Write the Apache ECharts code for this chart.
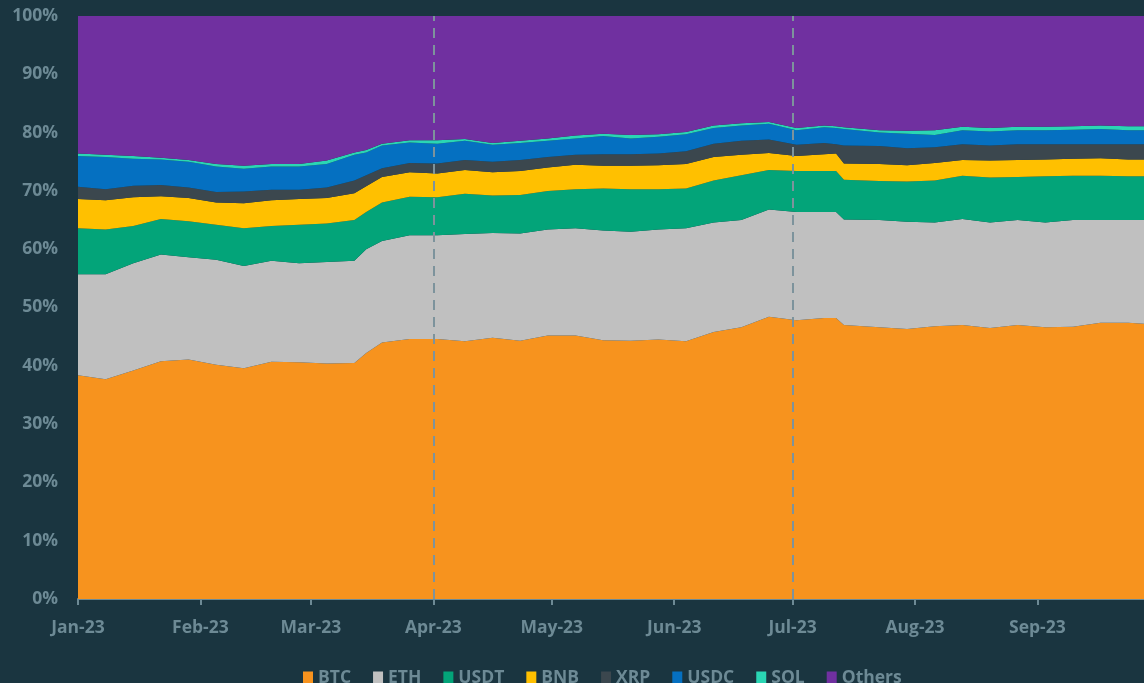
<!DOCTYPE html>
<html>
<head>
<meta charset="utf-8">
<script src="https://cdn.jsdelivr.net/npm/echarts@6/dist/echarts.min.js"></script>
<style>
  html, body { margin: 0; padding: 0; background: #1a3540; }
  #main { width: 1144px; height: 683px; }
</style>
</head>
<body>
<div id="main"></div>
<script>
// weekly readings of market share (%), Jan–Sep 2023
var dates = ['2023-01-01','2023-01-08','2023-01-15','2023-01-22','2023-01-29','2023-02-05','2023-02-12',
  '2023-02-19','2023-02-26','2023-03-05','2023-03-12','2023-03-15','2023-03-19','2023-03-26','2023-04-02',
  '2023-04-09','2023-04-16','2023-04-23','2023-04-30','2023-05-07','2023-05-14','2023-05-21','2023-05-28',
  '2023-06-04','2023-06-11','2023-06-18','2023-06-25','2023-07-02','2023-07-09','2023-07-12','2023-07-14',
  '2023-07-23','2023-07-30','2023-08-06','2023-08-13','2023-08-20','2023-08-27','2023-09-03','2023-09-10',
  '2023-09-17','2023-09-24','2023-09-28'];

var btc = [38.4,37.7,39.2,40.8,41.1,40.2,39.6,40.7,40.6,40.4,40.5,42.2,44.0,44.6,44.6,44.2,44.8,44.3,45.2,45.2,44.4,
  44.3,44.5,44.2,45.8,46.6,48.4,47.8,48.2,48.2,47.0,46.6,46.3,46.8,47.0,46.5,47.0,46.6,46.7,47.4,47.4,47.2];
var eth = [17.3,18.0,18.4,18.3,17.5,18.0,17.5,17.3,17.0,17.4,17.5,17.8,17.4,17.8,17.8,18.4,18.0,18.4,18.2,18.4,18.8,
  18.7,18.9,19.4,18.8,18.4,18.4,18.6,18.2,18.2,18.1,18.4,18.4,17.8,18.2,18.1,18.0,18.0,18.3,17.6,17.6,17.8];
var usdt = [7.9,7.7,6.4,6.1,6.2,6.0,6.5,6.0,6.6,6.6,7.0,6.4,6.6,6.6,6.5,6.9,6.4,6.6,6.6,6.7,7.2,
  7.3,6.9,6.8,7.2,7.7,6.8,7.0,7.0,7.0,6.8,6.7,6.9,7.2,7.4,7.7,7.4,7.9,7.6,7.6,7.5,7.5];
var bnb = [5.0,5.0,4.9,3.9,4.0,3.8,4.3,4.4,4.4,4.4,4.6,4.4,4.4,4.2,4.1,4.1,4.0,4.1,4.0,4.2,3.9,
  4.0,4.1,4.2,4.0,3.5,2.9,2.6,2.9,3.0,2.8,2.9,2.8,3.0,2.7,2.9,2.9,2.9,2.9,3.0,2.9,2.9];
var xrp = [2.1,1.9,2.0,1.9,1.8,1.8,2.0,1.8,1.6,1.8,2.2,1.9,1.5,1.6,1.7,1.7,1.8,1.9,1.8,1.7,2.0,
  2.0,2.0,2.2,2.3,2.4,2.3,1.9,1.9,1.6,3.1,3.1,2.9,2.7,2.7,2.6,2.7,2.6,2.5,2.4,2.6,2.6];
var usdc = [5.3,5.5,4.6,4.4,4.4,4.4,3.9,4.0,4.0,4.0,4.4,3.9,3.9,3.5,3.4,3.3,2.9,2.9,2.8,2.8,3.1,
  2.7,2.9,2.9,2.7,2.6,2.7,2.5,2.7,2.8,2.8,2.3,2.5,2.1,2.4,2.4,2.4,2.4,2.5,2.6,2.4,2.4];
var sol = [0.4,0.4,0.5,0.3,0.3,0.4,0.5,0.4,0.4,0.6,0.4,0.4,0.3,0.4,0.6,0.3,0.3,0.4,0.4,0.5,0.4,
  0.6,0.4,0.4,0.4,0.4,0.3,0.4,0.3,0.3,0.3,0.4,0.5,0.8,0.6,0.6,0.6,0.6,0.6,0.6,0.7,0.7];
var others = [23.6,23.8,24.0,24.3,24.7,25.4,25.7,25.4,25.4,24.8,23.4,23.0,21.9,21.3,21.3,21.1,21.8,21.4,21.0,20.5,20.2,
  20.4,20.3,19.9,18.8,18.4,18.2,19.2,18.8,18.9,19.1,19.6,19.7,19.6,19.0,19.2,19.0,19.0,18.9,18.8,18.9,18.9];

var names = ['BTC','ETH','USDT','BNB','XRP','USDC','SOL','Others'];
var values = [btc, eth, usdt, bnb, xrp, usdc, sol, others];
var colors = ['#f7931e','#c0c0c0','#03a479','#ffc000','#3b474e','#0570c1','#2ad6b4','#7030a0'];
var monthNames = ['Jan','Feb','Mar','Apr','May','Jun','Jul','Aug','Sep','Oct','Nov','Dec'];

var labelColor = '#6d8a95';
var fontFamily = '"Open Sans", "Noto Sans", sans-serif';

var myChart = echarts.init(document.getElementById('main'));

var series = names.map(function (name, i) {
  var s = {
    name: name,
    type: 'line',
    stack: 'share',
    symbol: 'none',
    lineStyle: { width: 0 },
    areaStyle: { color: colors[i], opacity: 1 },
    itemStyle: { color: colors[i] },
    data: dates.map(function (d, j) { return [d, values[i][j]]; })
  };
  if (i === 0) {
    // quarter separators
    s.markLine = {
      silent: true,
      symbol: 'none',
      label: { show: false },
      lineStyle: { color: '#7d939c', type: [10, 7], width: 2 },
      data: [{ xAxis: '2023-04-01' }, { xAxis: '2023-07-01' }]
    };
  }
  return s;
});

var option = {
  backgroundColor: '#1a3540',
  animation: false,
  color: colors,
  grid: { left: 78, right: 0, top: 16, bottom: 84 },
  legend: {
    data: names,
    left: 298,
    top: 664,
    icon: 'rect',
    itemWidth: 10,
    itemHeight: 13,
    itemGap: 22,
    textStyle: { color: labelColor, fontSize: 17.5, fontWeight: 'bold', fontFamily: fontFamily }
  },
  xAxis: {
    type: 'time',
    min: '2023-01-01',
    max: '2023-09-28',
    minInterval: 28 * 86400000,
    maxInterval: 31 * 86400000,
    axisLine: { lineStyle: { color: '#6d8a95', width: 2 } },
    axisTick: { show: true, length: 6, lineStyle: { color: '#6d8a95', width: 2 } },
    splitLine: { show: false },
    axisLabel: {
      color: labelColor,
      fontSize: 17.5,
      fontWeight: 'bold',
      fontFamily: fontFamily,
      margin: 20,
      hideOverlap: false,
      formatter: function (v) {
        var d = new Date(v);
        return monthNames[d.getMonth()] + '-23';
      }
    }
  },
  yAxis: {
    type: 'value',
    min: 0,
    max: 100,
    interval: 10,
    axisLine: { show: false },
    axisTick: { show: false },
    splitLine: { show: false },
    axisLabel: {
      color: labelColor,
      fontSize: 17.5,
      fontWeight: 'bold',
      fontFamily: fontFamily,
      margin: 20,
      formatter: '{value}%'
    }
  },
  series: series
};

myChart.setOption(option);
</script>
</body>
</html>
